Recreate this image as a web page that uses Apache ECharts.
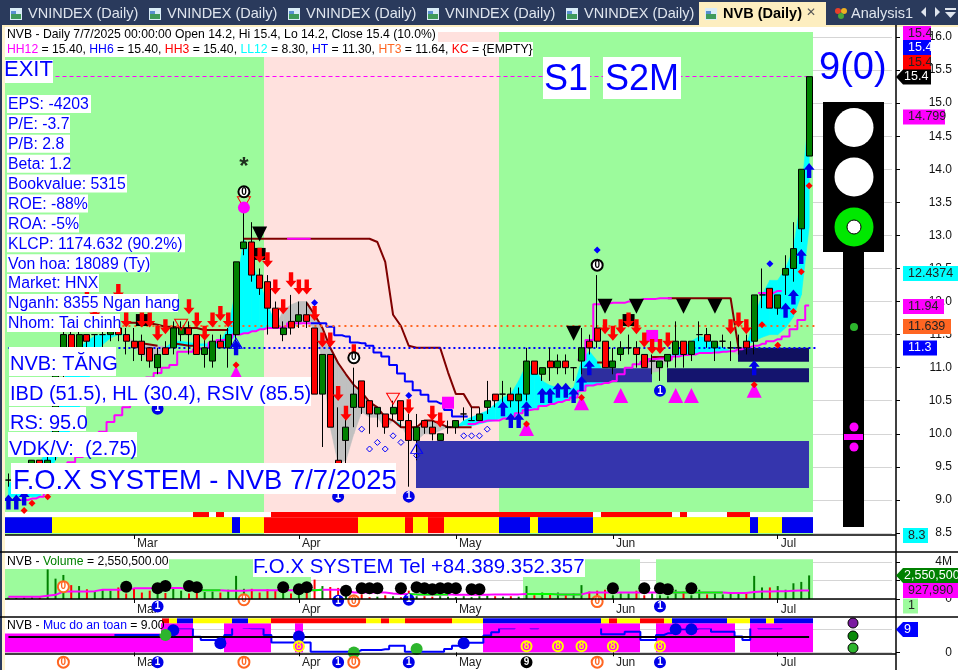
<!DOCTYPE html>
<html><head><meta charset="utf-8">
<style>html,body{margin:0;padding:0;background:#fff}#c{width:958px;height:670px}</style>
<script src="https://cdn.jsdelivr.net/npm/echarts@6/dist/echarts.min.js"></script>
</head><body><div id="c"></div>
<script>
const _=null;
const monthTicks={16:'Mar',37:'Apr',57:'May',77:'Jun',98:'Jul'};
const opens =[9.3,9.3,9.4,9.4,9.6,9.5,9.7,10.9,11.5,11.2,11.5,11.5,11.5,11.5,11.6,11.5,11.4,11.4,11.3,11.0,11.3,11.3,11.5,11.6,11.5,11.2,11.1,11.4,11.3,11.5,12.8,12.9,12.4,12.3,11.9,11.5,11.7,11.7,11.8,11.6,10.6,11.2,9.6,9.9,10.4,10.8,10.5,10.3,10.3,10.3,10.5,10.2,9.9,10.2,10.1,9.9,10.1,10.1,10.3,10.2,10.2,10.4,10.6,10.6,10.6,10.5,10.6,11.1,10.9,11.1,11.0,11.1,11.0,11.1,11.4,11.6,11.4,11.0,11.2,11.3,11.3,11.2,11.1,11.0,11.1,11.2,11.4,11.2,11.5,11.5,11.3,11.4,11.3,11.3,11.4,11.4,12.1,12.2,11.9,12.4,12.5,13.1,14.2];
const closes=[9.3,9.4,9.4,9.6,9.5,9.6,10.9,11.5,11.2,11.5,11.4,11.5,11.5,11.6,11.5,11.4,11.3,11.2,11.1,11.2,11.2,11.6,11.6,11.5,11.2,11.3,11.4,11.3,11.5,12.6,12.9,12.4,12.2,11.9,11.6,11.6,11.6,11.8,11.7,10.6,11.2,10.1,9.5,10.1,10.6,10.4,10.3,10.4,10.1,10.4,10.2,9.9,10.1,10.1,10.0,10.0,10.1,10.2,10.3,10.2,10.3,10.5,10.5,10.6,10.5,10.6,11.1,10.9,11.0,11.0,11.1,11.0,11.0,11.3,11.3,11.4,11.0,11.1,11.3,11.3,11.2,11.0,11.1,11.1,11.2,11.4,11.2,11.4,11.5,11.4,11.4,11.4,11.3,11.3,11.3,12.1,12.1,11.9,12.1,12.5,12.8,14.0,15.4];
const lows  =[9.2,9.2,9.2,9.3,9.3,9.3,9.6,10.8,11.1,11.1,11.3,11.3,11.3,11.4,11.4,11.2,11.1,11.1,11.0,10.9,11.2,11.2,11.4,11.2,11.2,11.0,11.0,11.3,11.0,11.3,12.7,12.3,12.1,11.5,11.6,11.4,11.5,11.6,11.6,10.6,9.8,10.1,9.5,9.5,10.1,10.3,10.0,10.1,10.0,10.2,10.1,9.2,9.6,10.0,9.9,9.9,10.0,10.0,10.2,10.2,10.2,10.3,10.4,10.4,10.4,10.3,10.5,10.9,10.8,10.8,10.9,10.9,10.8,10.9,11.2,11.3,11.0,10.9,11.1,11.2,11.0,11.0,10.9,10.8,11.0,11.0,11.0,11.1,11.4,11.3,11.1,11.3,11.1,11.2,11.2,11.2,11.9,11.9,11.8,12.1,12.3,12.9,14.2];
const highs =[9.4,9.5,9.5,9.6,9.6,9.7,11.0,11.6,11.6,11.6,11.5,11.5,11.6,11.6,11.6,11.6,11.6,11.5,11.3,11.3,11.4,11.7,11.7,11.7,11.5,11.5,11.5,11.5,11.6,12.6,13.5,13.2,12.5,12.4,12.0,11.7,12.1,12.0,12.0,11.6,11.2,11.2,10.4,10.4,11.0,10.8,10.5,10.4,10.3,10.5,10.5,10.3,10.3,10.2,10.2,10.0,10.2,10.2,10.4,10.4,10.4,10.8,10.6,10.8,10.7,10.7,11.3,11.1,11.0,11.3,11.2,11.2,11.0,11.6,11.5,12.4,11.4,11.3,11.4,11.5,11.4,11.2,11.2,11.1,11.2,11.7,11.4,11.4,11.7,11.6,11.4,11.5,11.4,11.5,11.5,12.1,12.5,12.2,12.1,12.7,13.2,14.0,15.4];
const fastBand=[9.25,9.3,9.35,9.45,9.55,9.8,10.3,10.8,11.1,11.3,11.4,11.48,11.5,11.5,11.5,11.5,11.3,11.2,11.12,11.2,11.3,11.4,11.4,11.38,11.36,11.36,11.36,11.4,11.6,12.2,12.95,12.6,12.28,11.97,11.65,11.57,11.6,11.65,11.68,11.6,11.1,10.1,9.55,9.6,10.0,10.33,10.25,10.25,10.08,10.2,10.15,9.9,9.9,10.0,10.0,10.05,10.1,10.1,10.2,10.25,10.3,10.35,10.45,10.55,10.6,10.8,11.05,11.0,10.8,10.73,10.7,10.65,10.7,11.1,11.25,11.1,10.9,10.85,_,_,_,11.0,10.93,10.95,11.15,11.25,11.3,11.4,11.47,11.45,11.35,11.3,11.26,11.2,11.32,11.75,12.1,12.32,12.32,12.5,12.8,13.6,14.9];
const slowBand=[9.05,9.05,9.05,9.05,9.05,9.4,9.6,9.8,10.1,10.4,10.7,11.2,11.35,11.45,11.5,11.5,11.39,11.37,11.35,11.33,11.32,11.32,11.33,11.33,11.33,11.33,11.3,11.3,11.35,11.5,11.52,11.55,11.58,11.6,11.6,11.87,11.95,12.0,12.0,11.8,11.6,11.3,11.07,10.9,10.74,10.63,10.48,10.4,10.25,10.2,10.1,10.1,10.1,10.2,10.2,10.15,10.1,10.1,10.13,10.12,10.15,10.18,10.2,10.25,10.25,10.3,10.35,10.38,10.42,10.45,10.48,10.5,10.55,10.65,10.73,10.75,10.77,10.8,_,_,_,11.02,11.15,11.15,11.16,11.17,11.19,11.2,11.22,11.22,11.23,11.24,11.25,11.3,11.35,11.4,11.46,11.5,11.5,11.6,11.77,12.1,13.13];
const darkRedA=[_,_,_,_,_,_,_,_,_,_,_,_,_,_,_,_,11.39,11.37,11.35,11.33,_,11.37,11.35,11.33,11.33,_,_,_,_,_,12.95,12.95,12.95,12.95,12.95,12.95,12.95,12.95,12.95,12.95,12.95,12.95,12.95,12.95,12.95,12.95,12.95,12.9,12.6,11.8,11.63,11.33,11.3,11.3,11.3,11.3,10.93,10.6,10.6,10.4,10.4,_,_,_,_,_,_,_,_,_,_,_,_,_,_,_,_,_,_,_,_,_,_,_,12.05,12.05,12.05,12.05,12.05,12.05,12.05,12.05,12.05,11.3,_,_,_,_,_,_,_,_,_];
const darkRedB=[_,_,_,_,_,_,_,_,_,_,_,_,_,_,_,11.68,11.68,11.67,11.67,11.65,11.62,11.62,11.6,11.6,11.6,11.57,11.57,11.57,11.57,_,_,_,_,_,_,_,_,_,11.98,11.8,11.6,11.3,11.07,10.9,10.74,10.63,10.48,10.4,10.25,10.2,10.1,10.1,10.1,10.2,10.2,10.15,10.1,10.1,10.1,10.1,_,_,_,_,_,_,_,_,_,_,_,_,_,_,_,11.08,11.08,_,_,_,_,_,11.16,11.16,11.16,_,_,_,_,_,_,_,_,_,_,_,_,_,_,_,_,_,_];
const blueStep=[_,_,_,_,_,_,_,_,_,_,_,_,_,_,_,_,_,_,_,_,_,_,_,_,_,_,_,_,_,_,_,_,_,_,_,_,_,_,_,11.67,11.67,11.62,11.49,11.47,11.38,11.37,11.33,11.23,11.17,11.04,10.91,10.79,10.66,10.59,10.49,10.46,10.36,10.26,10.26,_,_,_,_,_,_,_,_,_,_,_,_,_,_,_,_,_,_,_,_,_,_,_,_,_,_,_,_,_,_,_,_,_,_,_,_,_,_,_,_,_,_,_,_];
const magentaLow=[_,_,9.0,9.02,9.05,9.1,9.2,9.4,9.57,9.65,9.8,9.9,10.03,10.18,10.28,10.4,10.55,10.7,10.85,10.92,11.0,11.04,11.24,11.24,11.28,11.3,11.38,11.42,11.45,11.5,11.52,11.55,11.58,11.6,11.6,11.62,11.67,11.67,11.67,_,_,_,_,_,_,_,_,_,_,_,_,_,_,_,_,_,_,_,_,10.15,10.18,10.2,10.2,10.23,10.26,10.31,10.36,10.37,10.42,10.45,10.48,10.51,10.55,10.65,10.73,10.75,10.77,10.8,10.9,11.0,11.05,11.09,11.13,11.14,11.12,11.17,11.19,11.2,11.22,11.22,11.23,11.24,11.25,11.28,11.31,11.33,11.36,11.4,11.43,11.47,11.58,11.72,11.94];
const magentaHigh=[_,_,_,_,_,_,_,_,_,_,_,_,_,_,_,_,_,_,_,_,_,_,_,_,_,_,_,_,_,_,_,_,_,_,_,_,12.95,12.95,12.95,_,_,_,_,_,_,_,_,_,_,_,_,_,_,_,_,_,_,_,_,_,_,_,_,_,_,_,_,_,_,_,_,_,_,11.12,11.42,11.96,11.97,11.98,11.98,12.0,12.02,12.04,12.04,12.05,12.05,_,_,_,_,_,_,_,_,_,_,_,12.13,12.13,12.16,_,_,_,_];
const redArrows=[[10,12.1],[11,11.85],[14,12.15],[15,11.72],[17,11.72],[18,11.72],[19,11.52],[20,11.62],[23,11.92],[24,11.72],[25,11.52],[26,11.72],[27,11.82],[28,11.72],[32,12.7],[33,12.63],[34,12.22],[35,11.92],[36,12.33],[37,12.22],[38,12.22],[39,11.82],[40,11.42],[41,11.42],[42,10.61],[43,10.31],[44,11.24],[51,10.41],[54,10.31],[55,10.21],[76,11.62],[77,11.52],[78,11.62],[79,11.72],[80,11.62],[81,11.42],[82,11.32],[83,11.32],[84,11.42],[92,11.62],[93,11.72],[94,11.62]];
const blueArrows=[[0,8.97],[1,8.97],[2,9.03],[29,11.3],[63,10.38],[64,10.2],[65,10.2],[66,10.38],[68,10.58],[69,10.58],[70,10.66],[71,10.66],[72,10.58],[73,10.76],[74,11.0],[95,11.0],[99,11.87],[100,12.07],[101,12.68],[102,13.98]];
const redDots=[[2,8.84],[3,8.95],[5,9.05],[29,11.04],[66,10.15],[73,10.55],[95,10.74],[96,11.65],[98,11.34],[100,11.85],[101,12.45],[102,13.75]];
const blueDots=[[39,11.98],[51,10.58],[75,12.78],[97,12.57]];
const blackPins=[[32,13.02],[72,11.52],[76,11.93],[80,11.93],[86,11.93],[90,11.93]];
const magentaPeaks=[[29,10.91],[66,10.08],[73,10.47],[78,10.58],[85,10.58],[87,10.58],[95,10.66]];
const magentaSquares=[[56,10.47],[82,11.48]];
const blackSquares=[[17,11.72],[32,12.72],[79,11.72]];
const hollowDiamonds=[[45,10.07],[46,9.77],[47,9.87],[48,9.77],[49,9.97],[50,9.87],[52,9.67],[58,9.97],[59,9.97],[60,9.97],[61,10.07]];
const hollowRedTri=[[22,11.65],[30,13.5],[49,10.53]];
const hollowBlueTri=[[29,11.37],[52,9.78]];
const ringZero=[[30,13.66],[44,11.15],[75,12.55]];
const priceOnes=[[19,10.38],[42,9.05],[51,9.05],[83,10.65]];
const volumes=[.15,.1,.15,.2,.15,3.2,2.2,2.6,1.5,1.4,1.05,.8,1.05,.9,1.25,.6,1.15,.7,.9,.9,.65,1.3,.9,.6,.8,.75,.8,.7,1.0,2.5,1.1,1.1,.7,1.05,.85,.9,.6,.8,1.0,2.1,1.4,1.3,1.2,.9,.4,.5,.2,.25,.4,.3,.2,.9,.3,.3,.25,.3,.25,.2,.3,.2,.3,.35,.3,.25,.3,.25,1.4,.4,.7,.6,.7,.5,.6,1.5,.8,.9,1.0,.4,.6,.6,.9,.4,.6,.4,.3,1.0,.8,.4,1.0,.5,.6,.5,.7,.6,.6,2.5,1.25,1.25,1.4,1.0,1.7,1.85,2.55];
const volAvg=[.25,.25,.25,.25,.25,.35,.45,.8,.8,.8,.8,.85,1.0,1.0,1.0,1.0,1.15,1.15,1.15,1.15,1.15,1.2,1.2,.95,.95,.95,.95,.95,.9,.9,.9,.95,.95,.95,.95,.95,.95,.95,.95,.95,1.0,1.0,1.0,.95,.7,.7,.7,.7,.7,.6,.55,.55,.5,.5,.5,.5,.5,.45,.45,.45,.45,.45,.5,.5,.5,.5,.55,.55,.55,.55,.5,.5,.5,.5,.7,.7,.7,.7,.7,.7,.7,.7,.7,.7,.7,.7,.7,.7,.7,.7,.7,.7,.65,.65,.65,.75,.8,.8,.85,.85,.9,.93,.93];
const volAvgLimeRuns=[[23,27],[38,40],[51,56],[66,73],[84,91]];
const volDots=[[15,1.33],[19,1.15],[20,1.4],[23,1.4],[24,1.26],[35,1.26],[37,1.05],[38,1.26],[43,.9],[45,1.15],[46,1.15],[47,1.15],[50,1.15],[52,1.26],[53,1.15],[54,1.05],[55,1.15],[56,1.15],[57,1.15],[59,1.05],[60,1.05],[77,1.15],[81,1.15],[83,1.15],[84,1.05],[87,1.15]];
const volOrange=[[7,1.33],[30,-.08],[44,-.2],[75,-.28]];
const volBlue=[[19,-.8],[42,-.2],[51,-.08],[83,-.8]];
const safety=[_,_,_,_,_,_,_,_,_,_,_,_,_,_,6.84,6.84,6.84,6.84,6.84,6.84,6.84,9.47,9.47,9.47,6.18,4.87,4.87,3.55,6.84,10.4,9.7,9.47,9.47,6.84,3.82,3.82,3.82,3.82,3.82,.26,.26,.26,.26,.26,.26,.92,.92,.92,1.18,2.63,2.63,.26,.26,.26,.26,.26,1.3,2.6,3.8,3.8,3.8,6.6,7.9,9.5,9.5,10.5,10.5,9.5,10.5,10.5,10.5,10.5,10.5,10.5,10.5,10.2,7.1,7.1,7.1,8.1,8.1,4.9,4.9,6.84,7.5,9.08,9.08,9.08,9.47,9.47,8.16,8.16,8.16,6.2,4.87,10.4,9.47,9.47,9.47,10.4,10.4,10.4,10.4];
const safetyBlue=[[21,8.7],[27,3.55],[37,6.2],[58,3.55],[85,9.05],[87,9.05]];
const safetyGreen=[[20,6.8],[44,-.1],[52,1.3]];
const safetyEight=[[37,2.4],[66,2.4],[70,2.4],[73,2.4],[77,2.4],[83,2.4]];
const safetyOrange=[[7,-3.9],[30,-3.9],[44,-3.9],[75,-3.9]];
const safetyOnes=[[19,-3.9],[42,-3.9],[51,-3.9],[83,-3.9]];
const safetyNine=[[66,-3.9]];
const G='#9cfb9c',P='#ffe1de',R='#ff0000',Y='#ffff00',B='#0000f0',W='#ffffff',M='#ff00ff';
const regimeSpans=[[0,33,16.08,8.47,G],[33,63,16.08,8.47,P],[63,103,16.08,8.47,G]];
const stripOne=[[0,24,W],[24,26,R],[26,27,W],[27,28,R],[28,34,W],[34,75,R],[75,76,W],[76,85,R],[85,86,W],[86,87,R],[87,92,W],[92,95,R],[95,103,W]];
const stripTwo=[[0,6,B],[6,29,Y],[29,30,B],[30,33,Y],[33,45,R],[45,51,Y],[51,52,R],[52,54,Y],[54,56,R],[56,63,Y],[63,67,B],[67,68,Y],[68,75,B],[75,95,Y],[95,96,B],[96,99,Y],[99,103,B]];
const zones=[[52.4,102.5,9.89,9.18,'#3535ad'],[73.4,82.5,10.99,10.78,'#2e2e9e'],[84.4,102.5,10.99,10.78,'#14146e'],[93.4,102.5,11.3,11.09,'#10105f']];
const volGreen=[[0,39,4.3,0,G],[66,81,4.3,0,G],[83,103,4.3,0,G]];
const safeMagenta=[[0,24,11.46,0,M],[28,34,11.46,0,M],[37,38,11.46,0,M],[61,81,11.46,0,M],[83,93,11.46,0,M],[95,103,11.46,0,M]];
const safeStrip=[[20,21,R],[21,22,Y],[22,24,B],[24,29,Y],[29,31,B],[31,34,Y],[34,46,R],[46,48,Y],[48,49,R],[49,51,Y],[51,57,R],[57,61,Y],[61,76,B],[76,77,Y],[77,78,R],[78,81,Y],[81,84,R],[84,85,Y],[85,92,B],[92,95,Y],[95,97,B],[97,98,Y],[98,103,B]];
const leftNotes=['EPS: -4203','P/E: -3.7','P/B: 2.8','Beta: 1.2','Bookvalue: 5315','ROE: -88%','ROA: -5%','KLCP: 1174.632 (90.2%)','Von hoa: 18089 (Ty)','Market: HNX','Nganh: 8355 Ngan hang','Nhom: Tai chinh'];
const bigNotes=['NVB: TĂNG','IBD (51.5), HL (30.4), RSIV (85.5)','RS: 95.0','VDK/V:  (2.75)'];

const N=113, pitch=7.85, gridLeft=4.5, gridW=N*pitch;
const cats=[];for(let i=0;i<N;i++)cats.push(String(i));
const barCount=opens.length;

function spanSeries(list,name,xi,z,y0,y1){
  const rows=list.map(r=>r.length===5?r:[r[0],r[1],y0,y1,r[2]]);
  return {type:'custom',name,xAxisIndex:xi,yAxisIndex:xi,z,silent:true,clip:false,encode:{x:0,y:2},
    data:rows.map(r=>[r[0],r[1],r[2],r[3]]),
    renderItem(p,api){const r=rows[p.dataIndex];const bw=api.size([1,0])[0];
      const base=api.coord([0,r[2]]),low=api.coord([0,r[3]]);
      const xa=base[0]-bw/2+r[0]*bw, xb=base[0]-bw/2+r[1]*bw;
      return {type:'rect',shape:{x:Math.round(xa),y:base[1],width:Math.round(xb)-Math.round(xa),height:low[1]-base[1]},style:{fill:r[4]}};}};
}
function bandSeries(){
  const rows=[];for(let i=0;i<barCount-1;i++)rows.push([i,fastBand[i],slowBand[i]]);
  return {type:'custom',name:'band',z:2,silent:true,clip:false,encode:{x:0,y:1},data:rows,
    renderItem(p,api){const i=p.dataIndex;
      if(fastBand[i]==null||fastBand[i+1]==null)return null;
      const up=(fastBand[i]+fastBand[i+1])>=(slowBand[i]+slowBand[i+1]);const col=up?'#00ffff':'#c0c0c0';
      const pts=[api.coord([i,fastBand[i]]),api.coord([i+1,fastBand[i+1]]),api.coord([i+1,slowBand[i+1]]),api.coord([i,slowBand[i]])];
      return {type:'polygon',shape:{points:pts},style:{fill:col,stroke:col,lineWidth:.6}};}};
}
function marks(data,symbol,size,color,extra){
  return Object.assign({type:'scatter',data,symbol,symbolSize:size,z:7,clip:false,silent:true,animation:false,
    itemStyle:{color,opacity:1}},extra||{});
}
function badge(data,txt,fill,border,fg,xi,size){
  return {type:'scatter',xAxisIndex:xi||0,yAxisIndex:xi||0,data,symbol:'circle',symbolSize:size||11,z:8,clip:false,silent:true,
    itemStyle:{color:fill,borderColor:border,borderWidth:2,opacity:1},
    label:{show:true,position:'inside',formatter:txt,color:fg,fontFamily:'Liberation Sans',fontWeight:'bold',fontSize:10}};
}
const downArrow='path://M3,0H7V9H10L5,16L0,9H3Z', upArrow='path://M5,0L10,7H7V16H3V7H0Z';
function level(val,color,type,a,b,width){
  return {type:'line',data:[],z:4,silent:true,markLine:{silent:true,symbol:'none',animation:false,label:{show:false},
    lineStyle:{color,type,width:width||2,opacity:1},data:[[{coord:[a,val]},{coord:[b,val]}]]}};
}
function line(data,color,extra,xi){
  return Object.assign({type:'line',xAxisIndex:xi||0,yAxisIndex:xi||0,data,showSymbol:false,symbol:'none',silent:true,z:4,connectNulls:false,
    lineStyle:{color,width:2}},extra||{});
}
const monthIdx=Object.keys(monthTicks).map(Number);
function xAxis(i){return {type:'category',gridIndex:i,data:cats,boundaryGap:true,offset:2,
  axisLine:{show:false},
  axisTick:{show:true,alignWithLabel:true,length:4,interval:(k)=>monthIdx.includes(k),lineStyle:{color:'#000'}},
  axisLabel:{show:true,interval:(k)=>monthIdx.includes(k),formatter:(v,k)=>monthTicks[k]||'',align:'left',margin:2.5,padding:[0,0,0,3],color:'#222',fontFamily:'Liberation Sans',fontSize:12},
  splitLine:{show:false}};}
function yAxis(i,min,max,interval,fmt){return {type:'value',gridIndex:i,position:'right',offset:4.45,min,max,interval,scale:true,
  axisLine:{show:false},axisTick:{show:true,length:4,lineStyle:{color:'#000'}},
  axisLabel:{align:'right',margin:56,color:'#111',fontFamily:'Liberation Sans',fontSize:12,formatter:fmt},
  splitLine:{show:true,lineStyle:{color:'#aaa',type:'dotted'}}};}

const series=[
  spanSeries(regimeSpans,'regime',0,1),
  spanSeries(stripOne,'s1',0,5,8.817,8.74),
  spanSeries(stripTwo,'s2',0,5,8.74,8.5),
  bandSeries(),
  spanSeries(zones,'zones',0,3),
  level(15.4,M,[4,3],6,102,1),
  level(11.64,'#ff6622',[2,4],0,103),
  level(11.3,'#0000ff',[2,3],0,103),
  line(darkRedA,'#800000'),line(darkRedB,'#800000'),
  line(blueStep,'#0000ff',{step:'middle'}),
  line(magentaLow,M,{step:'middle'}),
  line(magentaHigh,M,{step:'middle'}),
  {type:'candlestick',name:'NVB',z:6,barWidth:6.5,silent:true,data:opens.map((o,i)=>[o,closes[i],lows[i],highs[i]]),
    itemStyle:{color:'#008000',color0:'#ff0000',borderColor:'#000',borderColor0:'#000',borderColorDoji:'#000',borderWidth:1}},
  marks(blackSquares,'rect',[12,12],'#000',{z:5}),
  marks(magentaSquares,'rect',12,M),
  marks(magentaPeaks,'triangle',[15,15],M),
  marks(blackPins,'path://M0,0H16L8,16Z',[15,15],'#000'),
  marks(redDots,'diamond',7,'#ff0000'),
  marks(blueDots,'diamond',7,'#0000ff'),
  marks(hollowDiamonds,'diamond',6,'#fff',{itemStyle:{color:'rgba(255,255,255,0)',borderColor:'#0000ff',borderWidth:1,opacity:1}}),
  marks(hollowRedTri,'path://M0,0H16L8,16Z',[13,11],'none',{itemStyle:{color:'rgba(0,0,0,0)',borderColor:'#ff0000',borderWidth:1,opacity:1}}),
  marks(hollowBlueTri,'triangle',[12,10],'none',{itemStyle:{color:'rgba(0,0,0,0)',borderColor:'#0000ff',borderWidth:1,opacity:1}}),
  marks(redArrows,downArrow,[11,15],'#ff0000'),
  marks(blueArrows,upArrow,[11,15],'#0000e8'),
  marks([[30,13.42]],'circle',12,M),
  {type:'scatter',data:[[30,14.1]],symbolSize:1,z:8,clip:false,silent:true,itemStyle:{color:'#000'},
    label:{show:true,position:'inside',formatter:'*',color:'#000',fontSize:24,fontWeight:'bold',fontFamily:'Liberation Sans',offset:[0,5]}},
  badge(ringZero,'0','#fff','#000','#000',0,11),
  badge(priceOnes,'1','#0000e8','#0000e8','#fff',0,10),
  // volume panel
  spanSeries(volGreen,'volGreen',1,1),
  {type:'bar',xAxisIndex:1,yAxisIndex:1,data:volumes,barWidth:2,z:3,silent:true,
    itemStyle:{color:(p)=>closes[p.dataIndex]>=opens[p.dataIndex]?'#008000':'#ff0000'}},
  line(volAvg,M,{z:4},1),
  line(volAvg.map((v,i)=>volAvgLimeRuns.some(r=>i>=r[0]&&i<=r[1])?v:null),'#00ff00',{z:5},1),
  marks(volDots,'circle',12,'#000',{xAxisIndex:1,yAxisIndex:1}),
  badge(volOrange,'0','#fff','#ff6622','#ff6622',1,11),
  badge(volBlue,'1','#0000e8','#0000e8','#fff',1,10),
  // safety panel
  spanSeries(safeMagenta,'safeM',2,1),
  spanSeries(safeStrip,'safeS',2,2,13.4,11.46),
  {type:'line',xAxisIndex:2,yAxisIndex:2,data:[],z:3,silent:true,markLine:{silent:true,symbol:'none',animation:false,label:{show:false},
    lineStyle:{color:'#000',type:'solid',width:2,opacity:1},data:[[{coord:[0,6.2]},{coord:[102,6.2]}]]}},
  line(safety,'#0000ff',{step:'middle',z:4},2),
  marks(safetyBlue,'circle',12,'#0000e8',{xAxisIndex:2,yAxisIndex:2}),
  marks(safetyGreen,'circle',12,'#2db52d',{xAxisIndex:2,yAxisIndex:2}),
  badge(safetyEight,'8',M,'#ffff00','#ffff00',2,10),
  badge(safetyOrange,'0','#fff','#ff6622','#ff6622',2,11),
  badge(safetyOnes,'1','#0000e8','#0000e8','#fff',2,10),
  badge(safetyNine,'9','#000','#000','#fff',2,10),
].map(s=>Object.assign({animation:false},s));

// decoration helpers
const Z=100, gfx=[];
const rect=(x,y,w,h,fill,z)=>gfx.push({type:'rect',z:z||Z,silent:true,shape:{x,y,width:w,height:h},style:{fill}});
const hline=(x1,x2,y,c,w)=>gfx.push({type:'line',z:Z+1,silent:true,shape:{x1,y1:y,x2,y2:y},style:{stroke:c||'#000',lineWidth:w||1.5}});
const vline=(x,y1,y2,c,w)=>gfx.push({type:'line',z:Z+1,silent:true,shape:{x1:x,y1,x2:x,y2},style:{stroke:c||'#000',lineWidth:w||1.5}});
const circ=(cx,cy,r,fill,stroke)=>gfx.push({type:'circle',z:Z+3,silent:true,shape:{cx,cy,r},style:{fill,stroke:stroke||null,lineWidth:1}});
const txt=(s,x,y,font,fill,align,z)=>gfx.push({type:'text',z:z||Z+2,silent:true,x,y,style:{text:s,font,fill,align:align||'left',verticalAlign:'middle'}});
const F='"Liberation Sans"';
// tabs
rect(0,0,958,25,'#2a3a5c');
['10','149','288','427','566'].forEach(v=>{const x=+v;
  rect(x,8,12,12,'#d9ecf7',Z+1);rect(x+1,14,10,5,'#3f9a5a',Z+2);rect(x+1,11,5,3,'#5a8fd0',Z+2);
  txt('VNINDEX (Daily)',x+18,14,'14.5px '+F,'#dfe5ee');});
rect(699,2,127,24,'#fdeec0');
rect(705,8,12,12,'#d9ecf7',Z+1);rect(706,14,10,5,'#3f9a5a',Z+2);rect(706,11,5,3,'#5a8fd0',Z+2);
txt('NVB (Daily)',723,14,'bold 14.5px '+F,'#000');
txt('✕',811,13,'12px "DejaVu Sans"','#555','center');
circ(838,11,3,'#e8402a');circ(844,11,3,'#f0b020');circ(841,16,3,'#48a838');
txt('Analysis1',851,14,'14.5px '+F,'#dfe5ee');
gfx.push({type:'polygon',z:Z+2,silent:true,shape:{points:[[926,7],[926,17],[921,12]]},style:{fill:'#dfe5ee'}});
gfx.push({type:'polygon',z:Z+2,silent:true,shape:{points:[[935,7],[935,17],[940,12]]},style:{fill:'#dfe5ee'}});
rect(945,8,11,2,'#dfe5ee',Z+2);
gfx.push({type:'polygon',z:Z+2,silent:true,shape:{points:[[945,12],[956,12],[950.5,18]]},style:{fill:'#dfe5ee'}});
// frame
rect(0,25,2,645,'#2a3a5c');rect(2,25,3,645,'#fff3cf');rect(2,25,956,2,'#fdeec0');rect(5,27,892,5,'#ffffff');
// header text
rect(5,28,433,14,'#fff');rect(5,42,528,15,'#fff');
const hf='12.2px '+F;
txt('NVB - Daily 7/7/2025 00:00:00 Open 14.2, Hi 15.4, Lo 14.2, Close 15.4 (10.0%)',7,35,hf,'#000');
gfx.push({type:'text',z:Z+2,silent:true,x:7,y:50,style:{
  text:'{m|HH12} = 15.40, {b|HH6} = 15.40, {r|HH3} = 15.40, {c|LL12} = 8.30, {b|HT} = 11.30, {o|HT3} = 11.64, {r|KC} = {EMPTY}',
  font:hf,fill:'#000',verticalAlign:'middle',
  rich:{m:{fill:'#ff00ff',font:hf},b:{fill:'#0000ff',font:hf},r:{fill:'#ff0000',font:hf},c:{fill:'#00ffff',font:hf},o:{fill:'#ff6622',font:hf}}}});
// big notes
rect(5,60,48,23,'#fff');txt('EXIT',4,70,'22px '+F,'#0000ff');
rect(543,57,47,42,'#fff');txt('S1',544,80,'36px '+F,'#0000ff');
rect(603,57,78,42,'#fff');txt('S2M',605,80,'36px '+F,'#0000ff');
txt('9(0)',819,69,'38px '+F,'#0000ff');
const noteW=[84,63,63,63,120,81,72,178,143,92,171,113];
leftNotes.forEach((s,i)=>{const y=104+19.9*i;rect(7,y-9,noteW[i],18,'#fff');txt(s,8,y+1,'15.8px '+F,'#0000ff');});
[[9,347,107,29,364],[9,377,302,29,394],[9,407,77,24,423],[8,432,129,25,449]].forEach((b,i)=>{rect(b[0],b[1],b[2],b[3],'#fff');txt(bigNotes[i],b[0]+1,b[4],'20px '+F,'#0000ff');});
rect(11,463,385,31,'#fff');txt('F.O.X SYSTEM - NVB 7/7/2025',13,481,'27.4px '+F,'#0000ff');
rect(253,557,332,20,'#fff');txt('F.O.X SYSTEM Tel +84.389.352.357',253,567,'20.4px '+F,'#0000ff');
rect(5,555,164,14,'#fff');
gfx.push({type:'text',z:Z+2,silent:true,x:7,y:561.5,style:{text:'NVB - {g|Volume} = 2,550,500.00',font:hf,fill:'#000',verticalAlign:'middle',rich:{g:{fill:'#008000',font:hf}}}});
rect(5,618,156,15.5,'#fff');
gfx.push({type:'text',z:Z+2,silent:true,x:7,y:625.5,style:{text:'NVB - {g|Muc do an toan} = 9.00',font:hf,fill:'#000',verticalAlign:'middle',rich:{g:{fill:'#0000ff',font:hf}}}});
// separators
hline(5,896,535);hline(0,958,552);hline(5,896,599);hline(0,958,617);hline(5,896,654);vline(896,25,670);
// traffic light
rect(823,102,61,150,'#000');rect(843,252,21,275,'#000');
circ(854,127.5,19.5,'#fff');circ(854,177,19.5,'#fff');circ(854,227,19.5,'#00e800');circ(854,227,7,'#fff','#000');
circ(854,327,4,'#2db52d');circ(854,427,4.5,'#ff00ff');circ(854,447,4.5,'#ff00ff');rect(844,434,19,6,'#ff00ff',Z+3);
// axis-side labels
[['15.4',903,931,33.5,'#ff00ff','#222'],['15.4',903,931,47.5,'#0000ff','#fff'],['15.4',903,931,62.5,'#ff0000','#222'],
 ['14.799',903,945,117,'#ff00ff','#222'],['12.4374',903,958,273.5,'#00ffff','#222'],['11.94',903,944,306.5,'#ff00ff','#222'],
 ['11.639',903,951,326.5,'#ff6622','#222'],['11.3',903,937,348,'#0000ff','#fff'],['8.3',903,928,535.5,'#00ffff','#222'],
 ['927,990',903,958,590.5,'#ff00ff','#222'],['1',903,918,606,'#9cfb9c','#222']].forEach(b=>{
  rect(b[1],b[3]-7.5,b[2]-b[1],15,b[4],Z+4);txt(b[0],b[1]+5,b[3],'12.5px '+F,b[5],'left',Z+5);});
[['15.4',896,931,77,'#000','#fff'],['2,550,500',896,958,575.5,'#008000','#fff'],['9',896,918,629.5,'#0000ff','#fff']].forEach(b=>{
  gfx.push({type:'polygon',z:Z+4,silent:true,shape:{points:[[b[1],b[3]],[b[1]+7,b[3]-7.5],[b[2],b[3]-7.5],[b[2],b[3]+7.5],[b[1]+7,b[3]+7.5]]},style:{fill:b[4]}});
  txt(b[0],b[1]+8,b[3],'12.5px '+F,b[5],'left',Z+5);});
circ(853,623,5,'#7a1aa0','#000');circ(853,636,5,'#0a8a0a','#000');circ(853,648,5,'#2db52d','#000');

const chart=echarts.init(document.getElementById('c'),null,{renderer:'canvas'});
chart.setOption({
  animation:false,backgroundColor:'#fff',tooltip:{show:false},legend:{show:false},
  grid:[{left:gridLeft,top:37,width:gridW,height:496},{left:gridLeft,top:562,width:gridW,height:37},{left:gridLeft,top:629.5,width:gridW,height:22.8}],
  xAxis:[xAxis(0),xAxis(1),xAxis(2)],
  yAxis:[yAxis(0,8.5,16,.5,v=>v.toFixed(1)),yAxis(1,0,4,2,v=>v===4?'4M':(v===0?'0':'')),yAxis(2,0,9,9,v=>v===0?'0':'')],
  graphic:gfx,series
});
</script></body></html>
